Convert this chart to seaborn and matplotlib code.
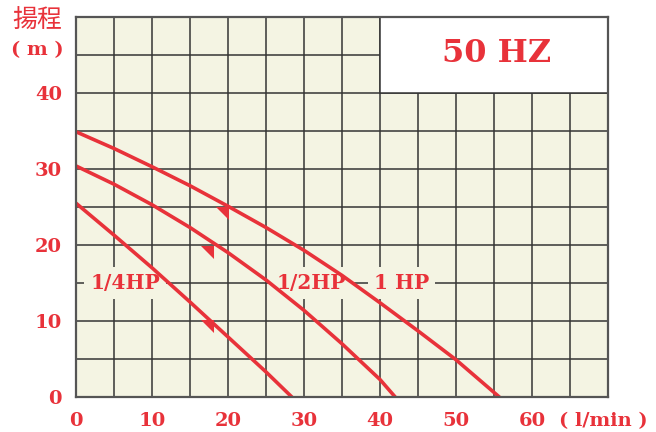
import matplotlib
matplotlib.use("Agg")
import matplotlib.pyplot as plt
from matplotlib.patches import Rectangle
import seaborn as sns
import pandas as pd

# ---- data ----
flow_quarter = [0, 5, 10, 15, 20, 25, 28.4]
head_quarter = [25.5, 21.3, 17.0, 12.5, 7.9, 3.3, 0]

flow_half = [0, 5, 10, 15, 20, 25, 30, 35, 40, 42]
head_half = [30.4, 28.0, 25.3, 22.3, 19.0, 15.4, 11.4, 7.0, 2.3, 0]

flow_one = [0, 5, 10, 15, 20, 25, 30, 35, 40, 45, 50, 55.7]
head_one = [34.9, 32.7, 30.3, 27.8, 25.1, 22.3, 19.3, 16.0, 12.4, 8.7, 4.9, 0]

arrow_x = [19.2, 17.2, 17.2]
arrow_y = [24.2, 19.1, 9.3]

x_ticks = [0, 10, 20, 30, 40, 50, 60]
y_ticks = [0, 10, 20, 30, 40]
x_tick_labels = ["0", "10", "20", "30", "40", "50", "60"]
y_tick_labels = ["0", "10", "20", "30", "40"]

RED = "#e8323a"
BG = "#f4f4e3"
GRID = "#353535"

rows = []
for name, xs, ys in [("1/4HP", flow_quarter, head_quarter),
                     ("1/2HP", flow_half, head_half),
                     ("1HP", flow_one, head_one)]:
    for x, y in zip(xs, ys):
        rows.append({"model": name, "flow": x, "head": y})
df = pd.DataFrame(rows)

sns.set_theme(style="white")
plt.rcParams["font.family"] = ["DejaVu Serif"]

fig = plt.figure(figsize=(6.56, 4.32), dpi=100)
ax = fig.add_axes([76 / 656, 1 - 397 / 432, 532 / 656, 380 / 432])
ax.set_facecolor(BG)

# grid
for gx in range(5, 70, 5):
    ax.axvline(gx, color=GRID, lw=1.1, zorder=1)
for gy in range(5, 50, 5):
    ax.axhline(gy, color=GRID, lw=1.1, zorder=1)

# white box
ax.add_patch(Rectangle((40, 40), 30, 10, facecolor="white",
                       edgecolor=GRID, lw=1.1, zorder=2))
ax.text(55.4, 45.2, "50 HZ", ha="center", va="center", fontsize=23,
        fontweight="bold", color=RED, zorder=5)

sns.lineplot(data=df, x="flow", y="head", units="model", estimator=None,
             color=RED, lw=2.6, ax=ax, zorder=4, sort=False)

tri = [(-1, 1), (1, 1), (1, -1), (-1, 1)]
ax.scatter(arrow_x, arrow_y, marker=tri, s=88, color=RED, linewidths=0,
           zorder=4)

def lbl_box():
    return dict(boxstyle="square,pad=0.3", facecolor=BG, edgecolor="none")

ax.text(6.5, 15, "1/4HP", ha="center", va="center", fontsize=14.5,
        fontweight="bold", color=RED, bbox=lbl_box(), zorder=3)
ax.text(30.9, 15, "1/2HP", ha="center", va="center", fontsize=14.5,
        fontweight="bold", color=RED, bbox=lbl_box(), zorder=3)
ax.text(42.8, 15, "1 HP", ha="center", va="center", fontsize=14.5,
        fontweight="bold", color=RED, bbox=lbl_box(), zorder=3)

ax.set_xlim(0, 70)
ax.set_ylim(0, 50)
ax.set_xticks(x_ticks)
ax.set_xticklabels(x_tick_labels)
ax.set_yticks(y_ticks)
ax.set_yticklabels(y_tick_labels)
ax.tick_params(axis="x", length=0, pad=11, labelsize=14, labelcolor=RED)
ax.tick_params(axis="y", length=0, pad=10, labelsize=14, labelcolor=RED)
for lab in ax.get_xticklabels() + ax.get_yticklabels():
    lab.set_fontweight("bold")
ax.set_xlabel("")
ax.set_ylabel("")
for sp in ax.spines.values():
    sp.set_color("#555555")
    sp.set_linewidth(1.6)
    sp.set_visible(True)
    sp.set_zorder(6)

fig.text(37 / 656, 1 - 21 / 432, "揚程", ha="center", va="center",
         fontsize=18, color=RED, family=["Noto Sans CJK TC", "DejaVu Sans"])
fig.text(37 / 656, 1 - 50 / 432, "( m )", ha="center", va="center",
         fontsize=14, fontweight="bold", color=RED)
fig.text(559 / 656, 1 - 421 / 432, "( l/min )", ha="left", va="center",
         fontsize=14, fontweight="bold", color=RED)

fig.savefig("out.png", dpi=100)
